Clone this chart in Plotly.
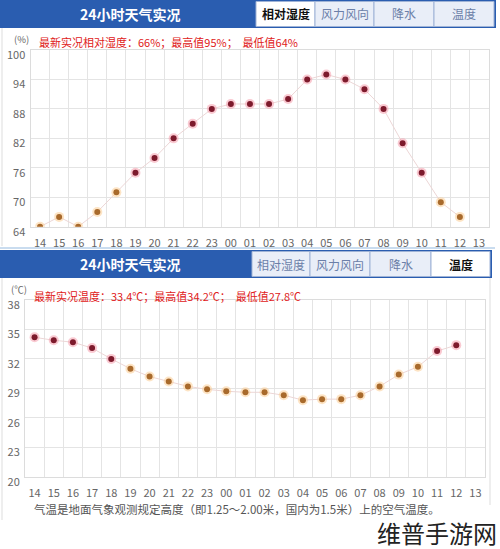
import plotly.graph_objects as go

hours = ["14","15","16","17","18","19","20","21","22","23","00","01",
         "02","03","04","05","06","07","08","09","10","11","12","13"]
humidity = [64,66,64,67,71,75,78,82,85,88,89,89,89,90,94,95,94,92,88,81,75,69,66,None]
temperature = [34.2,33.9,33.7,33.1,32.0,31.0,30.2,29.7,29.2,28.9,28.7,28.6,
               28.6,28.3,27.8,27.9,27.9,28.3,29.2,30.4,31.2,32.8,33.4,None]
hum_ticks = [64,70,76,82,88,94,100]
temp_ticks = [20,23,26,29,32,35,38]
tabs = ["相对湿度","风力风向","降水","温度"]

RED_CORE, RED_HALO = "#7d1a2c", "rgba(245,150,165,0.5)"
OR_CORE, OR_HALO = "#a86a2c", "rgba(252,205,150,0.55)"
FONT = "Noto Sans CJK SC"
W, H = 500, 549

def py(y):
    return 1 - y / H

def colors(vals, thr):
    core = [RED_CORE if (v is not None and v >= thr) else OR_CORE for v in vals]
    halo = [RED_HALO if (v is not None and v >= thr) else OR_HALO for v in vals]
    return core, halo

fig = go.Figure()

def add_series(vals, thr, xa, ya):
    core, halo = colors(vals, thr)
    fig.add_trace(go.Scatter(x=hours, y=vals, mode="lines", line=dict(color="#ecd6d6", width=1),
                             xaxis=xa, yaxis=ya, hoverinfo="skip", showlegend=False))
    fig.add_trace(go.Scatter(x=hours, y=vals, mode="markers", marker=dict(size=10, color=halo, line=dict(width=0)),
                             xaxis=xa, yaxis=ya, hoverinfo="skip", showlegend=False))
    fig.add_trace(go.Scatter(x=hours, y=vals, mode="markers", marker=dict(size=6, color=core, line=dict(width=0)),
                             xaxis=xa, yaxis=ya, showlegend=False))

add_series(humidity, 73, "x", "y")
add_series(temperature, 31.5, "x2", "y2")

axis_common = dict(showline=True, linecolor="#dcdcdc", mirror=True, gridcolor="#e4e4e4", gridwidth=1,
                   zeroline=False, ticks="", automargin=False,
                   tickfont=dict(family=FONT, size=11, color="#666"))

fig.update_layout(
    width=W, height=H, margin=dict(l=0, r=0, t=0, b=0, autoexpand=False),
    paper_bgcolor="white", plot_bgcolor="white",
    xaxis=dict(domain=[30.5/W, 488.5/W], anchor="y", type="category", categoryorder="array",
               categoryarray=hours, tickson="boundaries", range=[-0.5, 23.5], tickangle=0,
               ticklabelstandoff=6, **axis_common),
    yaxis=dict(domain=[py(226.7), py(50)], anchor="x", range=[64, 100], tickvals=hum_ticks,
               ticklabelshift=5, ticklabelstandoff=2, **axis_common),
    xaxis2=dict(domain=[25/W, 485/W], anchor="y2", type="category", categoryorder="array",
                categoryarray=hours, tickson="boundaries", range=[-0.5, 23.5], tickangle=0,
                ticklabelstandoff=6, **axis_common),
    yaxis2=dict(domain=[py(476.7), py(300)], anchor="x2", range=[20, 38], tickvals=temp_ticks,
                ticklabelshift=5, ticklabelstandoff=2, **axis_common),
)

shapes = []
annots = []

def text(t, x, y, size, color, xanchor="center", bold=False):
    annots.append(dict(text=f"<b>{t}</b>" if bold else t, x=x / W, y=py(y), xref="paper", yref="paper",
                       xanchor=xanchor, yanchor="middle", showarrow=False,
                       font=dict(family=FONT, size=size, color=color)))

def header(y0, y1, active, tab_x):
    shapes.append(dict(type="rect", xref="paper", yref="paper", x0=0, x1=tab_x[-1][1] / W + 0.004,
                       y0=py(y1), y1=py(y0), fillcolor="#2a5db0", line=dict(width=0), layer="below"))
    text("24小时天气实况", 130, (y0 + y1) / 2, 14, "white", bold=True)
    for i, (t, (a, b)) in enumerate(zip(tabs, tab_x)):
        act = i == active
        shapes.append(dict(type="rect", xref="paper", yref="paper", x0=a / W, x1=b / W,
                           y0=py(y1 - 1.5), y1=py(y0 + 1.5),
                           fillcolor="white" if act else "#e9eef8",
                           line=dict(color="#9fb3d6", width=1), layer="below"))
        text(t, (a + b) / 2, (y0 + y1) / 2, 12, "#111" if act else "#6b7fa8", bold=act)

header(0, 28, 0, [(256, 315), (315, 374), (374, 434), (434, 494)])
header(250, 278, 3, [(252, 310), (310, 370), (370, 431), (431, 490)])

# panel borders
shapes.append(dict(type="line", xref="paper", yref="paper", x0=0, x1=0.99, y0=py(248), y1=py(248),
                   line=dict(color="#c9dcef", width=2)))
shapes.append(dict(type="line", xref="paper", yref="paper", x0=2 / W, x1=2 / W, y0=py(520), y1=py(278),
                   line=dict(color="#dddddd", width=1)))
shapes.append(dict(type="line", xref="paper", yref="paper", x0=490 / W, x1=490 / W, y0=py(505), y1=py(278),
                   line=dict(color="#dddddd", width=1)))
shapes.append(dict(type="line", xref="paper", yref="paper", x0=2 / W, x1=2 / W, y0=py(246), y1=py(28),
                   line=dict(color="#dddddd", width=1)))

text("最新实况相对湿度：66%；最高值95%；  最低值64%", 37, 42, 11, "#e02020", xanchor="left")
text("(%)", 31, 39, 9.5, "#666", xanchor="right")
text("最新实况温度：33.4℃；最高值34.2℃；  最低值27.8℃", 32, 296, 11, "#e02020", xanchor="left")
text("(℃)", 29, 289, 9.5, "#666", xanchor="right")
text("气温是地面气象观测规定高度（即1.25～2.00米，国内为1.5米）上的空气温度。", 32, 509, 11.5, "#555", xanchor="left")
text("维普手游网", 499, 532, 24, "#222", xanchor="right")

fig.update_layout(shapes=shapes, annotations=annots)
fig.write_html("out.html", config={"displayModeBar": False},
               post_script="document.body.style.margin='0';")
